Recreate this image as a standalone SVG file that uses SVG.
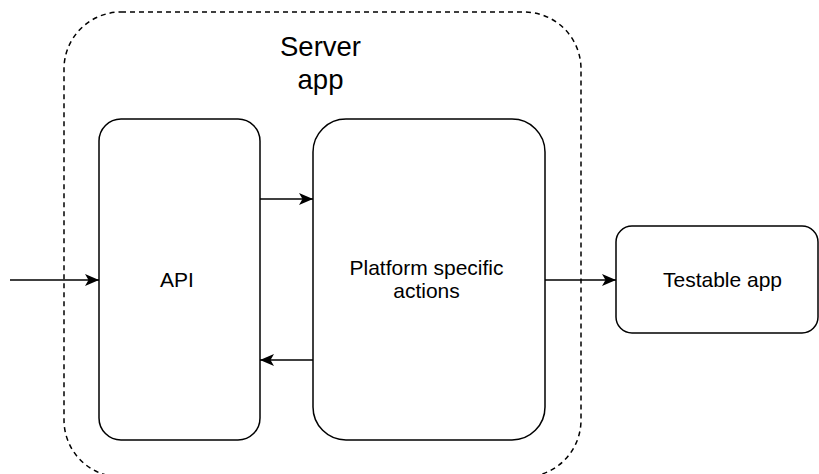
<svg xmlns="http://www.w3.org/2000/svg" width="819" height="474" viewBox="0 0 819 474">
<style>
.box{fill:#fff;stroke:#000;stroke-width:1.5}
.cont{fill:none;stroke:#000;stroke-width:1.5;stroke-dasharray:5 4}
.edge{fill:none;stroke:#000;stroke-width:1.5}
text{font-family:"Liberation Sans",Arial,sans-serif;fill:#000;text-anchor:middle}
.lbl{font-size:21px}
.big{font-size:27.5px}
</style>
<defs>
<marker id="ah" viewBox="0 0 14 12" refX="14" refY="6" markerWidth="14" markerHeight="12" markerUnits="userSpaceOnUse" orient="auto">
<path d="M0,0 L14,6 L0,12 L3.5,6 Z" fill="#000"/>
</marker>
</defs>
<rect width="819" height="474" fill="#fff"/>
<g id="server-app">
<rect class="cont" x="64" y="12" width="517" height="465" rx="57" ry="57"/>
<text class="big" x="320.5" y="56">Server</text>
<text class="big" x="320.5" y="89">app</text>
</g>
<g id="api">
<rect class="box" x="99" y="119" width="161" height="321" rx="22" ry="22"/>
<text class="lbl" x="177" y="287">API</text>
</g>
<g id="platform">
<rect class="box" x="313" y="119" width="232" height="321" rx="33" ry="33"/>
<text class="lbl" x="426.5" y="275">Platform specific</text>
<text class="lbl" x="426.5" y="297.5">actions</text>
</g>
<g id="testable">
<rect class="box" x="616" y="226" width="202" height="107" rx="16" ry="16"/>
<text class="lbl" x="722.5" y="287">Testable app</text>
</g>
<g id="connectors">
<line class="edge" x1="10" y1="280" x2="99" y2="280" marker-end="url(#ah)"/>
<line class="edge" x1="260" y1="199" x2="313" y2="199" marker-end="url(#ah)"/>
<line class="edge" x1="313" y1="360" x2="260" y2="360" marker-end="url(#ah)"/>
<line class="edge" x1="545" y1="280" x2="616" y2="280" marker-end="url(#ah)"/>
</g>
</svg>
